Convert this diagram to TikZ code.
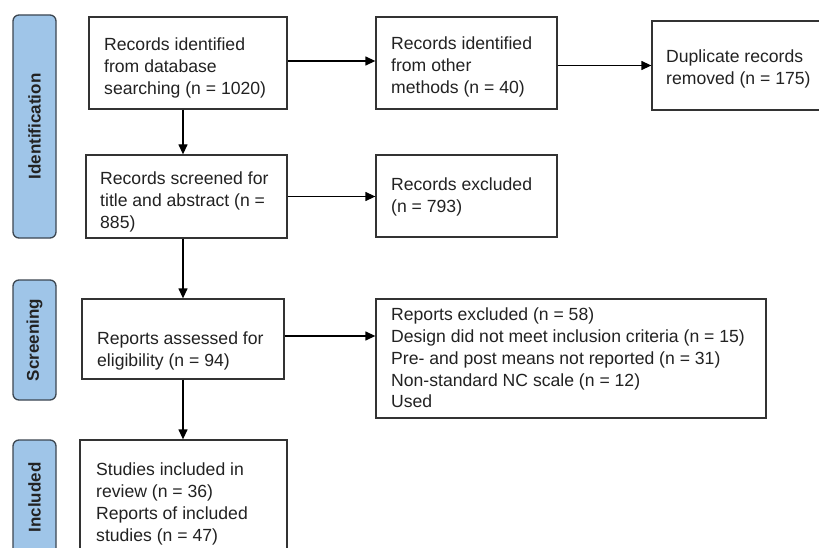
\documentclass[tikz,border=0pt]{standalone}
\usepackage{fontspec}
\usepackage{graphicx}
\setmainfont{Liberation Sans}
\usetikzlibrary{arrows.meta}

\definecolor{stagefill}{HTML}{9FC5E8}
\definecolor{stageline}{HTML}{3C4650}
\definecolor{boxline}{HTML}{333333}
\definecolor{inktext}{HTML}{222222}

\tikzset{
  box/.style={draw=boxline, line width=1.3pt, fill=white, inner sep=0pt},
  stage/.style={draw=stageline, line width=1.3pt, fill=stagefill, rounded corners=6pt,
    inner sep=0pt, minimum width=43pt, text=inktext,
    font=\fontsize{17}{20}\selectfont\bfseries},
  txt/.style={anchor=north west, inner sep=0pt, align=left, text=inktext,
    font=\fontsize{17.6}{21.7}\selectfont},
  flow/.style={->, >={Triangle[length=10pt,width=9pt]}, line width=1.3pt, draw=black}
}

\begin{document}
\begin{tikzpicture}[x=1pt,y=-1pt]
\clip (0,0) rectangle (819,548);
\fill[white] (0,0) rectangle (819,548);

% stages
\node[stage, minimum height=223pt] (ident) at (34.5,126.5) {\rotatebox{90}{Identification}};
\node[stage, minimum height=120pt] (scrn) at (34.5,340) {\rotatebox{90}{Screening}};
\node[stage, minimum height=115pt] (incd) at (34.5,497.5) {\rotatebox{90}{Included}};

% boxes
\node[box, minimum width=198pt, minimum height=92pt] (dbase) at (188,63) {};
\node[box, minimum width=181pt, minimum height=92pt] (other) at (466.5,63) {};
\node[box, minimum width=188pt, minimum height=89pt] (dupl) at (746,65.5) {};
\node[box, minimum width=201pt, minimum height=83pt] (screen) at (186.5,196.5) {};
\node[box, minimum width=181pt, minimum height=82pt] (recexcl) at (466.5,196) {};
\node[box, minimum width=202pt, minimum height=80pt] (assess) at (183,339) {};
\node[box, minimum width=390pt, minimum height=119pt] (repexcl) at (571,358.5) {};
\node[box, minimum width=207pt, minimum height=130pt] (incl) at (183.5,505) {};

% texts
\node[txt] (dbase-t) at (104,38) {Records identified\\from database\\searching (n = 1020)};
\node[txt] (other-t) at (391,37) {Records identified\\from other\\methods (n = 40)};
\node[txt] (dupl-t) at (666,50) {Duplicate records\\removed (n = 175)};
\node[txt] (screen-t) at (100,172) {Records screened for\\title and abstract (n =\\885)};
\node[txt] (recexcl-t) at (391,178) {Records excluded\\(n = 793)};
\node[txt] (assess-t) at (97,332) {Reports assessed for\\eligibility (n = 94)};
\node[txt] (repexcl-t) at (391,308) {Reports excluded (n = 58)\\Design did not meet inclusion criteria (n = 15)\\Pre- and post means not reported (n = 31)\\Non-standard NC scale (n = 12)\\Used};
\node[txt] (incl-t) at (96,463) {Studies included in\\review (n = 36)\\Reports of included\\studies (n = 47)};

% arrows
\draw[flow] ([yshift=2]dbase.east) -- ([yshift=2]dbase.east -| other.west);
\draw[flow] (other.east |- dupl) -- (dupl.west);
\draw[flow] (dbase.south -| assess) -- (screen.north -| assess);
\draw[flow] (screen.east) -- (screen.east -| recexcl.west);
\draw[flow] (screen.south -| assess) -- (assess.north);
\draw[flow] ([yshift=3]assess.east) -- ([yshift=3]assess.east -| repexcl.west);
\draw[flow] (assess.south) -- (assess.south |- incl.north);
\end{tikzpicture}
\end{document}
